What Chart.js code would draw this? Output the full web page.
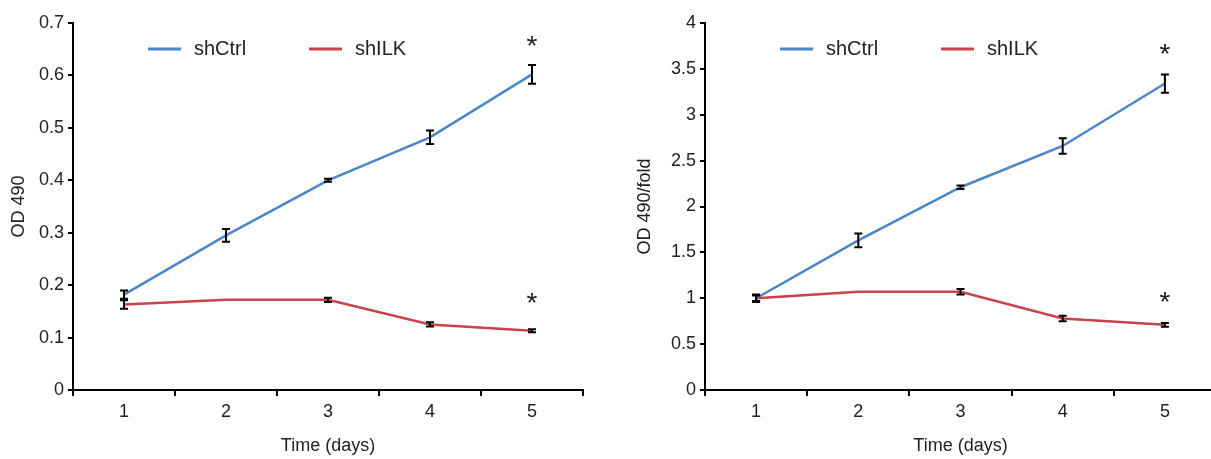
<!DOCTYPE html>
<html>
<head>
<meta charset="utf-8">
<script src="https://cdn.jsdelivr.net/npm/chart.js@4.4.1/dist/chart.umd.min.js"></script>
<style>
  html, body { margin: 0; padding: 0; background: #fff; overflow: hidden; }
  body { width: 1211px; height: 459px; position: relative; }
  canvas { position: absolute; top: 0; }
  #odChart { left: 0; }
  #foldChart { left: 626px; }
</style>
</head>
<body>
<canvas id="odChart" width="600" height="459"></canvas>
<canvas id="foldChart" width="600" height="459"></canvas>
<script>
const days = ['1', '2', '3', '4', '5'];
const seriesNames = ['shCtrl', 'shILK'];

// left panel: raw OD 490
const odCtrl = [0.182, 0.295, 0.400, 0.482, 0.602];
const odCtrlErr = [0.008, 0.012, 0.003, 0.013, 0.018];
const odIlk = [0.163, 0.172, 0.172, 0.125, 0.113];
const odIlkErr = [0.008, 0, 0.004, 0.004, 0.003];
const odRange = [0, 0.7, 0.1];
const odStars = [0.67, 0.18];

// right panel: fold change
const foldCtrl = [1.0, 1.63, 2.21, 2.66, 3.34];
const foldCtrlErr = [0.04, 0.075, 0.02, 0.085, 0.1];
const foldIlk = [1.0, 1.07, 1.07, 0.78, 0.71];
const foldIlkErr = [0.03, 0, 0.03, 0.03, 0.02];
const foldRange = [0, 4, 0.5];
const foldStars = [3.74, 1.03];

const BLUE = '#4a86c8';
const RED = '#c8434c';
const FONT = '"Liberation Sans", Arial, sans-serif';

const errorBars = {
    id: 'errorBars',
    afterDatasetsDraw(chart) {
        const ctx = chart.ctx;
        const y = chart.scales.y;
        ctx.save();
        ctx.strokeStyle = '#000';
        ctx.lineWidth = 2;
        chart.data.datasets.forEach((ds, di) => {
            const meta = chart.getDatasetMeta(di);
            ds.errors.forEach((e, i) => {
                if (!e) return;
                const x = meta.data[i].x;
                const top = y.getPixelForValue(ds.data[i] + e);
                const bot = y.getPixelForValue(ds.data[i] - e);
                ctx.beginPath();
                ctx.moveTo(x, top); ctx.lineTo(x, bot);
                ctx.moveTo(x - 4, top); ctx.lineTo(x + 4, top);
                ctx.moveTo(x - 4, bot); ctx.lineTo(x + 4, bot);
                ctx.stroke();
            });
        });
        ctx.restore();
    }
};

// legend drawn inside the plot, and significance stars over day 5
const overlay = {
    id: 'overlay',
    afterDraw(chart, args, opts) {
        const ctx = chart.ctx;
        const area = chart.chartArea;
        ctx.save();
        const ly = area.top + 26;
        [75, 236].forEach((off, i) => {
            const ds = chart.data.datasets[i];
            ctx.strokeStyle = ds.borderColor;
            ctx.lineWidth = 3;
            ctx.beginPath();
            ctx.moveTo(area.left + off, ly);
            ctx.lineTo(area.left + off + 33, ly);
            ctx.stroke();
            ctx.fillStyle = '#222';
            ctx.font = '20px ' + FONT;
            ctx.textBaseline = 'middle';
            ctx.fillText(ds.label, area.left + off + 46, ly);
        });
        const x = chart.scales.x.getPixelForValue(4);
        ctx.font = '28px ' + FONT;
        ctx.textAlign = 'center';
        ctx.textBaseline = 'alphabetic';
        opts.stars.forEach(v => {
            ctx.fillText('*', x, chart.scales.y.getPixelForValue(v) + 16);
        });
        ctx.restore();
    }
};

function makeChart(id, ctrl, ctrlErr, ilk, ilkErr, range, stars, yTitle, yWidth, padRight) {
    return new Chart(document.getElementById(id), {
        type: 'line',
        data: {
            labels: days,
            datasets: [
                { label: seriesNames[0], data: ctrl, errors: ctrlErr, borderColor: BLUE, borderWidth: 2.5, pointRadius: 0, tension: 0 },
                { label: seriesNames[1], data: ilk, errors: ilkErr, borderColor: RED, borderWidth: 2.5, pointRadius: 0, tension: 0 }
            ]
        },
        options: {
            responsive: false,
            animation: false,
            layout: { padding: { top: 23, right: padRight, left: 0, bottom: 0 } },
            plugins: {
                legend: { display: false },
                tooltip: { enabled: false },
                overlay: { stars: stars }
            },
            scales: {
                x: {
                    offset: true,
                    afterFit: (s) => { s.height = 69; },
                    grid: { offset: true, drawOnChartArea: false, color: '#000', lineWidth: 2, tickLength: 6 },
                    border: { color: '#000', width: 2 },
                    ticks: { color: '#222', font: { family: FONT, size: 18 }, padding: 5 },
                    title: { display: true, text: 'Time (days)', color: '#222', font: { family: FONT, size: 18 }, padding: { top: 0, bottom: 2 } }
                },
                y: {
                    min: range[0],
                    max: range[1],
                    afterFit: (s) => { s.width = yWidth; },
                    grid: { drawOnChartArea: false, color: '#000', lineWidth: 2, tickLength: 5 },
                    border: { color: '#000', width: 2 },
                    ticks: {
                        stepSize: range[2],
                        color: '#222',
                        padding: 4,
                        font: { family: FONT, size: 18 },
                        callback: (v) => String(Math.round(v * 100) / 100)
                    },
                    title: { display: true, text: yTitle, color: '#222', font: { family: FONT, size: 18 }, padding: { top: 8, bottom: 0 } }
                }
            }
        },
        plugins: [errorBars, overlay]
    });
}

makeChart('odChart', odCtrl, odCtrlErr, odIlk, odIlkErr, odRange, odStars, 'OD 490', 73, 17);
makeChart('foldChart', foldCtrl, foldCtrlErr, foldIlk, foldIlkErr, foldRange, foldStars, 'OD 490/fold', 79, 10);
</script>
</body>
</html>
